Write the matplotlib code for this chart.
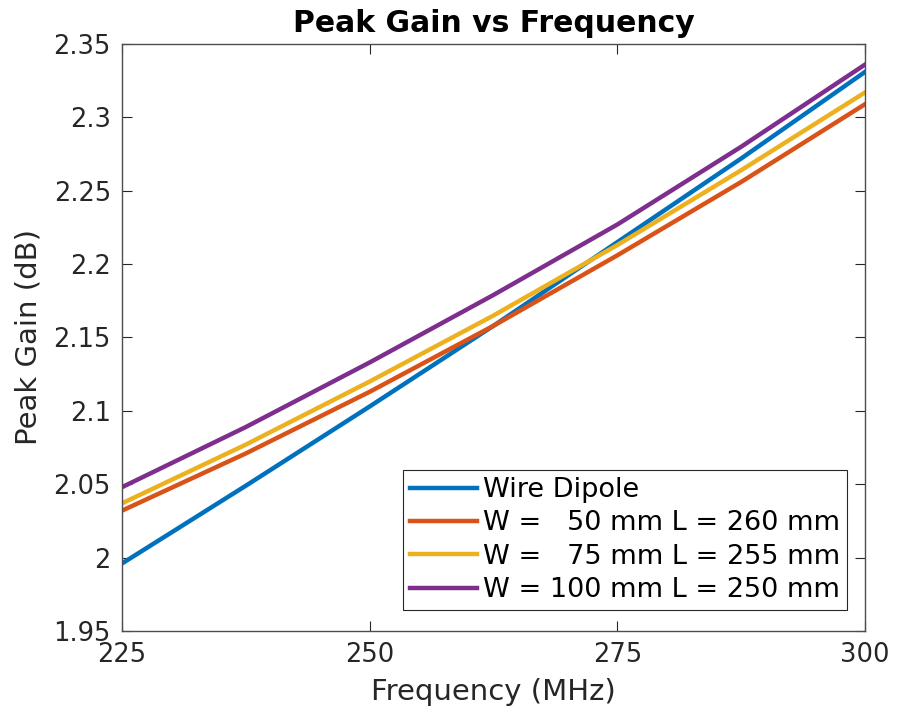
import matplotlib
matplotlib.use("Agg")
import matplotlib.pyplot as plt

# 频率 (MHz)
freq = [225, 237.5, 250, 262.5, 275, 287.5, 300]

# Peak gain (dB)
wire_dipole = [1.996, 2.049, 2.103, 2.158, 2.215, 2.272, 2.331]
w50_l260 = [2.032, 2.071, 2.113, 2.158, 2.206, 2.256, 2.309]
w75_l255 = [2.037, 2.077, 2.120, 2.165, 2.213, 2.264, 2.317]
w100_l250 = [2.048, 2.089, 2.133, 2.179, 2.227, 2.280, 2.336]

labels = ["Wire Dipole",
          "W =   50 mm L = 260 mm",
          "W =   75 mm L = 255 mm",
          "W = 100 mm L = 250 mm"]
colors = ["#0072BD", "#D95319", "#EDB120", "#7E2F8E"]

x_ticks = [225, 250, 275, 300]
y_ticks = [1.95, 2.0, 2.05, 2.1, 2.15, 2.2, 2.25, 2.3, 2.35]
y_tick_labels = ["1.95", "2", "2.05", "2.1", "2.15", "2.2", "2.25", "2.3", "2.35"]

plt.rcParams["font.family"] = "DejaVu Sans"

fig = plt.figure(figsize=(8.98, 7.12), dpi=100)
ax = fig.add_axes([0.1359, 0.1138, 0.8274, 0.8244])

for series, lab, col in zip([wire_dipole, w50_l260, w75_l255, w100_l250], labels, colors):
    ax.plot(freq, series, color=col, linewidth=3.2, label=lab)

ax.set_xlim(225, 300)
ax.set_ylim(1.95, 2.35)
ax.set_xticks(x_ticks)
ax.set_yticks(y_ticks)
ax.set_yticklabels(y_tick_labels)

axis_gray = "#262626"
for sp in ax.spines.values():
    sp.set_color("#4d4d4d")
    sp.set_linewidth(1.0)
ax.tick_params(direction="in", length=7, width=0.8, colors=axis_gray,
               labelsize=18.5, top=True, right=True, pad=8)

ax.set_xlabel("Frequency (MHz)", fontsize=21, color=axis_gray, labelpad=7)
ax.set_ylabel("Peak Gain (dB)", fontsize=21, color=axis_gray, labelpad=8)
ax.set_title("Peak Gain vs Frequency", fontsize=21.5, fontweight="bold", pad=9)

leg = ax.legend(loc="lower right", fontsize=19.5, frameon=True, fancybox=False,
                edgecolor="#262626", framealpha=1, handlelength=2.5,
                handletextpad=0.22, borderpad=0.25, borderaxespad=0,
                labelspacing=0.27, bbox_to_anchor=(0.976, 0.036))
leg.get_frame().set_linewidth(0.8)

fig.savefig("out.png", dpi=100)
